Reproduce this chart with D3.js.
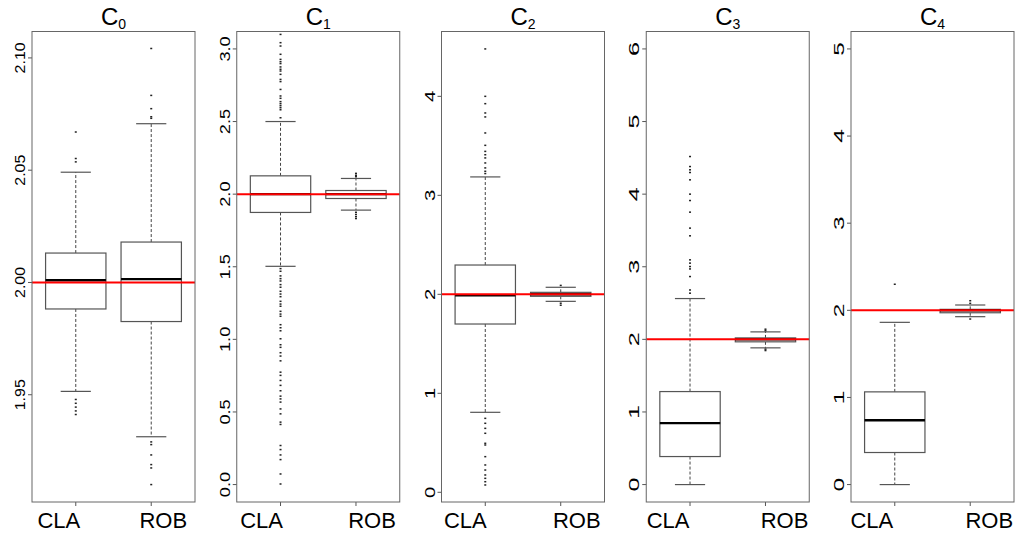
<!DOCTYPE html>
<html>
<head>
<meta charset="utf-8">
<script src="https://d3js.org/d3.v7.min.js"></script>
<style>
  body { margin: 0; background: white; }
  svg { display: block; font-family: 'Liberation Sans', Arial, sans-serif; }
  .frame { fill: none; stroke: #666; stroke-width: 1; }
  .box { fill: white; stroke: #555; stroke-width: 1.2; }
  .median { stroke: black; stroke-width: 2.4; }
  .whisker { stroke: #444; stroke-width: 1; stroke-dasharray: 3,2; }
  .cap { stroke: #555; stroke-width: 1.2; }
  .outlier { fill: #222; }
  .truth { stroke: #ff0000; stroke-width: 2; }
  .tick { stroke: #555; }
</style>
</head>
<body>
<svg width="1016" height="538"></svg>
<script>
// panel subscripts and the two estimators
const panels = ['0', '1', '2', '3', '4']
const groups = ['CLA', 'ROB']
const trueValue = 2

// y limits of each panel (before R's 4% padding)
const yLimits = [[1.91, 2.104], [0, 3], [0.078, 4.479], [0, 6], [0, 5]]

// y tick values and label decimals
const yTicks = [
  [1.95, 2.00, 2.05, 2.10],
  [0, 0.5, 1.0, 1.5, 2.0, 2.5, 3.0],
  [0, 1, 2, 3, 4],
  [0, 1, 2, 3, 4, 5, 6],
  [0, 1, 2, 3, 4, 5]
]
const yDecimals = [2, 1, 0, 0, 0]

// five number summaries: [lower whisker, q1, median, q3, upper whisker]
const claStats = [
  [1.9515, 1.9882, 2.001, 2.0131, 2.0491],
  [1.503, 1.874, 2.0, 2.126, 2.5],
  [0.808, 1.700, 1.99, 2.296, 3.186],
  [0.0, 0.386, 0.846, 1.281, 2.562],
  [0.0, 0.368, 0.739, 1.064, 1.862]
]
const robStats = [
  [1.9313, 1.9826, 2.0015, 2.018, 2.0707],
  [1.89, 1.970, 2.0, 2.025, 2.108],
  [1.929, 1.98, 2.0, 2.02, 2.071],
  [1.883, 1.966, 2.0, 2.02, 2.103],
  [1.927, 1.972, 2.0, 2.011, 2.061]
]

// outliers beyond the whiskers
const claOutliers = [
  [2.067, 2.0552, 2.0537, 1.9479, 1.9462, 1.9445, 1.9428, 1.9412],
  [3.10, 3.043, 3.02, 2.963, 2.928, 2.912, 2.899, 2.876, 2.86, 2.848, 2.825, 2.79, 2.775,
   2.721, 2.676, 2.66, 2.637, 2.623, 2.609, 2.595, 2.581, 2.526,
   1.487, 1.469, 1.437, 1.418, 1.402, 1.377, 1.359, 1.331, 1.312, 1.294, 1.262, 1.243,
   1.228, 1.193, 1.174, 1.159, 1.101, 1.08, 1.059, 1.004, 0.963, 0.945, 0.908, 0.885,
   0.852, 0.774, 0.752, 0.717, 0.683, 0.646, 0.609, 0.59, 0.568, 0.521, 0.487, 0.43,
   0.414, 0.269, 0.241, 0.204, 0.172, 0.073, 0.004],
  [4.479, 4.0, 3.926, 3.832, 3.792, 3.63, 3.505, 3.444, 3.41, 3.378, 3.327, 3.277, 3.243, 3.22,
   0.747, 0.697, 0.646, 0.596, 0.495, 0.478, 0.36, 0.276, 0.225, 0.175, 0.141, 0.107, 0.074],
  [4.518, 4.38, 4.335, 4.298, 4.197, 4.0, 3.912, 3.752, 3.532, 3.426, 3.095, 3.05, 3.003,
   2.97, 2.865, 2.68, 2.636],
  [2.299]
]
const robOutliers = [
  [2.1042, 2.0833, 2.0774, 2.0738, 2.0731, 1.929, 1.9278, 1.9232, 1.9189, 1.9174, 1.91],
  [2.143, 2.13, 2.12, 1.875, 1.86, 1.845, 1.832],
  [2.09, 1.91, 1.89],
  [2.14, 2.12, 1.865, 1.846],
  [2.11, 2.08, 1.90]
]

const svg = d3.select('svg')

// panel geometry
const margin = {top: 31.5, bottom: 36, left: 32},
pitch = 204.75,
panelW = 163,
panelH = 538 - margin.top - margin.bottom

// group labels sit a bit outward from their ticks (px, per panel)
const labelShift = [[-17, 12], [-19, 16], [-20, 16], [-22, 19], [-23, 19]]
// the panels were stretched vertically by different amounts, so the
// rotated tick labels are elongated along y
const labelStretch = [1.14, 1.3, 1.45, 1.8, 1.75]

// x inside each panel, R style: groups at 1 and 2 with 4% padding
const x = d3.scaleLinear()
.domain([0.42, 2.58])
.range([0, panelW])

const boxHalf = (x(1.4) - x(1)),
capHalf = (x(1.2) - x(1))

panels.forEach((p, i) => {

  // y scale with R's 4% padding
  const [lo, hi] = yLimits[i],
  pad = (hi - lo) * 0.04
  const y = d3.scaleLinear()
  .domain([lo - pad, hi + pad])
  .range([panelH, 0])

  const g = svg
  .append('g')
  .attr('transform', `translate(${margin.left + i * pitch}, ${margin.top})`)

  // title C with subscript
  const title = g
  .append('text')
  .attr('x', panelW / 2)
  .attr('y', -7)
  .attr('text-anchor', 'middle')
  .style('font-size', '24px')

  title.append('tspan').text('C')
  title
  .append('tspan')
  .attr('dy', 4)
  .style('font-size', '14px')
  .text(p)

  // y axis: small ticks and rotated labels
  const yAxis = g
  .append('g')
  .selectAll('.ytick')
  .data(yTicks[i])
  .enter()
  .append('g')
  .attr('class', 'ytick')
  .attr('transform', d => `translate(0, ${y(d)})`)

  yAxis
  .append('line')
  .attr('class', 'tick')
  .attr('x1', -4)
  .attr('x2', 0)

  yAxis
  .append('text')
  .attr('transform', `translate(-7, 0) rotate(-90) scale(${labelStretch[i]}, 1)`)
  .attr('text-anchor', 'middle')
  .style('font-size', '14px')
  .text(d => d.toFixed(yDecimals[i]))

  // x axis ticks and group labels
  const xAxis = g
  .append('g')
  .selectAll('.xtick')
  .data(groups)
  .enter()
  .append('g')
  .attr('class', 'xtick')
  .attr('transform', (d, j) => `translate(${x(j + 1)}, ${panelH})`)

  xAxis
  .append('line')
  .attr('class', 'tick')
  .attr('y1', 0)
  .attr('y2', 4)

  xAxis
  .append('text')
  .attr('x', (d, j) => labelShift[i][j])
  .attr('y', 26)
  .attr('text-anchor', 'middle')
  .style('font-size', '22px')
  .text(d => d)

  // boxplots
  const boxes = [
    {stats: claStats[i], out: claOutliers[i], at: 1},
    {stats: robStats[i], out: robOutliers[i], at: 2}
  ]

  boxes.forEach(b => {
    const cx = x(b.at),
    [w0, q1, med, q3, w1] = b.stats

    const bg = g.append('g')

    // dashed whiskers
    bg
    .append('line')
    .attr('class', 'whisker')
    .attr('x1', cx).attr('x2', cx)
    .attr('y1', y(q3)).attr('y2', y(w1))

    bg
    .append('line')
    .attr('class', 'whisker')
    .attr('x1', cx).attr('x2', cx)
    .attr('y1', y(q1)).attr('y2', y(w0))

    // whisker caps
    bg
    .selectAll('.cap')
    .data([w0, w1])
    .enter()
    .append('line')
    .attr('class', 'cap')
    .attr('x1', cx - capHalf)
    .attr('x2', cx + capHalf)
    .attr('y1', d => y(d))
    .attr('y2', d => y(d))

    // box
    bg
    .append('rect')
    .attr('class', 'box')
    .attr('x', cx - boxHalf)
    .attr('y', y(q3))
    .attr('width', boxHalf * 2)
    .attr('height', y(q1) - y(q3))

    // median
    bg
    .append('line')
    .attr('class', 'median')
    .attr('x1', cx - boxHalf)
    .attr('x2', cx + boxHalf)
    .attr('y1', y(med))
    .attr('y2', y(med))

    // outliers as tiny dots
    bg
    .selectAll('.outlier')
    .data(b.out)
    .enter()
    .append('rect')
    .attr('class', 'outlier')
    .attr('x', cx - 1)
    .attr('y', d => y(d) - 0.75)
    .attr('width', 2)
    .attr('height', 1.5)
  })

  // true value line
  g
  .append('line')
  .attr('class', 'truth')
  .attr('x1', 0)
  .attr('x2', panelW)
  .attr('y1', y(trueValue))
  .attr('y2', y(trueValue))

  // panel frame
  g
  .append('rect')
  .attr('class', 'frame')
  .attr('width', panelW)
  .attr('height', panelH)
})
</script>
</body>
</html>
